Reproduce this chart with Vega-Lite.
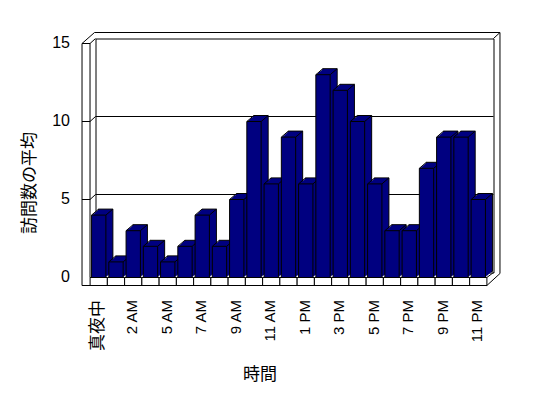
{
  "$schema": "https://vega.github.io/schema/vega-lite/v6.json",
  "width": 398,
  "height": 234,
  "autosize": {"type": "none"},
  "padding": {"left": 95.5, "top": 38.5, "right": 54.5, "bottom": 125.5},
  "background": "white",
  "config": {
    "view": {"stroke": "black", "strokeWidth": 1, "fill": "white"}
  },
  "datasets": {
    "bars": [
      {"hour": "真夜中", "visits": 4},
      {"hour": "1 AM", "visits": 1},
      {"hour": "2 AM", "visits": 3},
      {"hour": "3 AM", "visits": 2},
      {"hour": "5 AM", "visits": 1},
      {"hour": "6 AM", "visits": 2},
      {"hour": "7 AM", "visits": 4},
      {"hour": "8 AM", "visits": 2},
      {"hour": "9 AM", "visits": 5},
      {"hour": "10 AM", "visits": 10},
      {"hour": "11 AM", "visits": 6},
      {"hour": "正午", "visits": 9},
      {"hour": "1 PM", "visits": 6},
      {"hour": "2 PM", "visits": 13},
      {"hour": "3 PM", "visits": 12},
      {"hour": "4 PM", "visits": 10},
      {"hour": "5 PM", "visits": 6},
      {"hour": "6 PM", "visits": 3},
      {"hour": "7 PM", "visits": 3},
      {"hour": "8 PM", "visits": 7},
      {"hour": "9 PM", "visits": 9},
      {"hour": "10 PM", "visits": 9},
      {"hour": "11 PM", "visits": 5}
    ],
    "grid": [{"g": 5}, {"g": 10}],
    "one": [{"k": 1}]
  },
  "layer": [
    {
      "data": {"name": "grid"},
      "mark": {"type": "rule", "color": "black", "strokeWidth": 1, "xOffset": -9.2, "x2Offset": 9.2},
      "encoding": {
        "x": {"datum": "真夜中", "type": "nominal"},
        "x2": {"datum": "11 PM"},
        "y": {"field": "g", "type": "quantitative"}
      }
    },
    {
      "data": {"name": "grid"},
      "mark": {"type": "rule", "color": "black", "strokeWidth": 1, "xOffset": -14.7, "x2Offset": -9.2, "yOffset": 5, "y2Offset": 0},
      "encoding": {
        "x": {"datum": "真夜中", "type": "nominal"},
        "x2": {"datum": "真夜中"},
        "y": {"field": "g", "type": "quantitative"},
        "y2": {"field": "g"}
      }
    },
    {
      "data": {"name": "grid"},
      "mark": {"type": "rule", "color": "black", "strokeWidth": 1, "xOffset": -22.7, "x2Offset": -14.7, "yOffset": 5},
      "encoding": {
        "x": {"datum": "真夜中", "type": "nominal"},
        "x2": {"datum": "真夜中"},
        "y": {"field": "g", "type": "quantitative"}
      }
    },
    {
      "data": {"name": "one"},
      "mark": {"type": "rule", "color": "black", "strokeWidth": 1, "xOffset": -22.7, "yOffset": 5, "y2Offset": 13},
      "encoding": {
        "x": {"datum": "真夜中", "type": "nominal"},
        "y": {"datum": 15, "type": "quantitative"},
        "y2": {"datum": 0}
      }
    },
    {
      "data": {"name": "one"},
      "mark": {"type": "rule", "color": "black", "strokeWidth": 1, "xOffset": -14.7, "yOffset": 5, "y2Offset": 5},
      "encoding": {
        "x": {"datum": "真夜中", "type": "nominal"},
        "y": {"datum": 15, "type": "quantitative"},
        "y2": {"datum": 0}
      }
    },
    {
      "data": {"name": "one"},
      "mark": {"type": "rule", "color": "black", "strokeWidth": 1, "xOffset": -22.7, "x2Offset": -14.7, "yOffset": 5},
      "encoding": {
        "x": {"datum": "真夜中", "type": "nominal"},
        "x2": {"datum": "真夜中"},
        "y": {"datum": 15, "type": "quantitative"}
      }
    },
    {
      "data": {"name": "one"},
      "mark": {"type": "rule", "color": "black", "strokeWidth": 1, "xOffset": -22.7, "x2Offset": -10.2, "yOffset": 5, "y2Offset": -6},
      "encoding": {
        "x": {"datum": "真夜中", "type": "nominal"},
        "x2": {"datum": "真夜中"},
        "y": {"datum": 15, "type": "quantitative"},
        "y2": {"datum": 15}
      }
    },
    {
      "data": {"name": "one"},
      "mark": {"type": "rule", "color": "black", "strokeWidth": 1, "xOffset": -14.7, "x2Offset": -9.2, "yOffset": 5, "y2Offset": 0},
      "encoding": {
        "x": {"datum": "真夜中", "type": "nominal"},
        "x2": {"datum": "真夜中"},
        "y": {"datum": 15, "type": "quantitative"},
        "y2": {"datum": 15}
      }
    },
    {
      "data": {"name": "one"},
      "mark": {"type": "rule", "color": "black", "strokeWidth": 1, "xOffset": -10.2, "x2Offset": 15.7, "yOffset": -6},
      "encoding": {
        "x": {"datum": "真夜中", "type": "nominal"},
        "x2": {"datum": "11 PM"},
        "y": {"datum": 15, "type": "quantitative"}
      }
    },
    {
      "data": {"name": "one"},
      "mark": {"type": "rule", "color": "black", "strokeWidth": 1, "xOffset": 9.2, "x2Offset": 15.7, "yOffset": 0, "y2Offset": -6},
      "encoding": {
        "x": {"datum": "11 PM", "type": "nominal"},
        "x2": {"datum": "11 PM"},
        "y": {"datum": 15, "type": "quantitative"},
        "y2": {"datum": 15}
      }
    },
    {
      "data": {"name": "one"},
      "mark": {"type": "rule", "color": "black", "strokeWidth": 1, "xOffset": 15.7, "yOffset": -6, "y2Offset": 1},
      "encoding": {
        "x": {"datum": "11 PM", "type": "nominal"},
        "y": {"datum": 15, "type": "quantitative"},
        "y2": {"datum": 0}
      }
    },
    {
      "data": {"name": "bars"},
      "mark": {"type": "bar", "fill": "#000080", "stroke": "black", "strokeWidth": 1, "xOffset": 1, "x2Offset": 1, "yOffset": -1, "y2Offset": -1},
      "encoding": {
        "x": {"field": "hour", "type": "nominal", "sort": null,
              "scale": {"type": "band", "domain": ["真夜中","1 AM","2 AM","3 AM","5 AM","6 AM","7 AM","8 AM","9 AM","10 AM","11 AM","正午","1 PM","2 PM","3 PM","4 PM","5 PM","6 PM","7 PM","8 PM","9 PM","10 PM","11 PM"], "paddingInner": 0.17, "paddingOuter": 0.12}},
        "y": {"field": "visits", "type": "quantitative", "scale": {"domain": [0, 15], "nice": false}}
      }
    },
    {
      "data": {"name": "bars"},
      "mark": {"type": "bar", "fill": "#000080", "strokeWidth": 0, "xOffset": -5, "x2Offset": -5, "yOffset": 4.1, "y2Offset": 4.1},
      "encoding": {"x": {"field": "hour", "type": "nominal"}, "y": {"field": "visits", "type": "quantitative"}}
    },
    {
      "data": {"name": "bars"},
      "mark": {"type": "bar", "fill": "#000080", "strokeWidth": 0, "xOffset": -4, "x2Offset": -4, "yOffset": 3.3, "y2Offset": 3.3},
      "encoding": {"x": {"field": "hour", "type": "nominal"}, "y": {"field": "visits", "type": "quantitative"}}
    },
    {
      "data": {"name": "bars"},
      "mark": {"type": "bar", "fill": "#000080", "strokeWidth": 0, "xOffset": -3, "x2Offset": -3, "yOffset": 2.4, "y2Offset": 2.4},
      "encoding": {"x": {"field": "hour", "type": "nominal"}, "y": {"field": "visits", "type": "quantitative"}}
    },
    {
      "data": {"name": "bars"},
      "mark": {"type": "bar", "fill": "#000080", "strokeWidth": 0, "xOffset": -2, "x2Offset": -2, "yOffset": 1.6, "y2Offset": 1.6},
      "encoding": {"x": {"field": "hour", "type": "nominal"}, "y": {"field": "visits", "type": "quantitative"}}
    },
    {
      "data": {"name": "bars"},
      "mark": {"type": "bar", "fill": "#000080", "strokeWidth": 0, "xOffset": -1, "x2Offset": -1, "yOffset": 0.7, "y2Offset": 0.7},
      "encoding": {"x": {"field": "hour", "type": "nominal"}, "y": {"field": "visits", "type": "quantitative"}}
    },
    {
      "data": {"name": "bars"},
      "mark": {"type": "bar", "fill": "#000080", "strokeWidth": 0, "xOffset": 0, "x2Offset": 0, "yOffset": -0.1, "y2Offset": -0.1},
      "encoding": {"x": {"field": "hour", "type": "nominal"}, "y": {"field": "visits", "type": "quantitative"}}
    },
    {
      "data": {"name": "bars"},
      "mark": {"type": "rule", "color": "black", "strokeWidth": 1, "xOffset": -13.16, "x2Offset": -6.16, "yOffset": 5, "y2Offset": -1},
      "encoding": {
        "x": {"field": "hour", "type": "nominal"},
        "x2": {"field": "hour"},
        "y": {"field": "visits", "type": "quantitative"},
        "y2": {"field": "visits"}
      }
    },
    {
      "data": {"name": "bars"},
      "mark": {"type": "rule", "color": "black", "strokeWidth": 1, "xOffset": 1.16, "x2Offset": 8.16, "yOffset": 5, "y2Offset": -1},
      "encoding": {
        "x": {"field": "hour", "type": "nominal"},
        "x2": {"field": "hour"},
        "y": {"field": "visits", "type": "quantitative"},
        "y2": {"field": "visits"}
      }
    },
    {
      "data": {"name": "bars"},
      "mark": {"type": "bar", "fill": "#000080", "stroke": "black", "strokeWidth": 1, "xOffset": -6, "x2Offset": -6, "yOffset": 5, "y2Offset": 5},
      "encoding": {
        "x": {"field": "hour", "type": "nominal",
              "axis": {"values": ["真夜中","2 AM","5 AM","7 AM","9 AM","11 AM","1 PM","3 PM","5 PM","7 PM","9 PM","11 PM"],
                       "labelAngle": 270, "labelAlign": "right", "labelBaseline": "middle", "labelOffset": -7, "labelPadding": 27, "ticks": false, "tickSize": 0, "domain": false, "grid": false,
                       "labelOverlap": false, "labelLimit": 300, "labelFont": "Liberation Sans, Noto Sans CJK JP", "labelColor": "black",
                       "labelFontSize": {"condition": {"test": "datum.value == '真夜中'", "value": 17}, "value": 15},
                       "title": "時間", "titleFont": "Noto Sans CJK JP", "titleFontSize": 17, "titleFontWeight": "normal", "titleColor": "black",
                       "titleX": 164, "titleY": 102, "titleBaseline": "middle", "titleAlign": "center"}},
        "y": {"field": "visits", "type": "quantitative",
              "axis": {"values": [0, 5, 10, 15], "labelOffset": 4, "labelPadding": 26, "ticks": false, "tickSize": 0, "domain": false, "grid": false,
                       "labelFont": "Liberation Sans", "labelFontSize": 16, "labelColor": "black",
                       "title": "訪問数の平均", "titleFont": "Noto Sans CJK JP", "titleFontSize": 17, "titleFontWeight": "normal", "titleColor": "black",
                       "titleAngle": 270, "titleX": -66, "titleY": 144, "titleBaseline": "middle", "titleAlign": "center"}}
      }
    },
    {
      "data": {"name": "bars"},
      "mark": {"type": "bar", "fill": "white", "stroke": "black", "strokeWidth": 1, "width": {"band": 1.2048}, "xOffset": -6, "x2Offset": -6, "yOffset": 5, "y2Offset": 13},
      "encoding": {
        "x": {"field": "hour", "type": "nominal"},
        "y": {"datum": 0, "type": "quantitative"},
        "y2": {"datum": 0}
      }
    },
    {
      "data": {"name": "one"},
      "mark": {"type": "rule", "color": "black", "strokeWidth": 1, "xOffset": -22.7, "x2Offset": 2.6, "yOffset": 13},
      "encoding": {
        "x": {"datum": "真夜中", "type": "nominal"},
        "x2": {"datum": "11 PM"},
        "y": {"datum": 0, "type": "quantitative"}
      }
    },
    {
      "data": {"name": "one"},
      "mark": {"type": "rule", "color": "black", "strokeWidth": 1, "xOffset": 2.6, "x2Offset": 15.7, "yOffset": 13, "y2Offset": 1},
      "encoding": {
        "x": {"datum": "11 PM", "type": "nominal"},
        "x2": {"datum": "11 PM"},
        "y": {"datum": 0, "type": "quantitative"},
        "y2": {"datum": 0}
      }
    },
    {
      "data": {"name": "one"},
      "mark": {"type": "rule", "color": "black", "strokeWidth": 1, "xOffset": 2.6, "x2Offset": 9.2, "yOffset": 5, "y2Offset": 0},
      "encoding": {
        "x": {"datum": "11 PM", "type": "nominal"},
        "x2": {"datum": "11 PM"},
        "y": {"datum": 0, "type": "quantitative"},
        "y2": {"datum": 0}
      }
    }
  ]
}
